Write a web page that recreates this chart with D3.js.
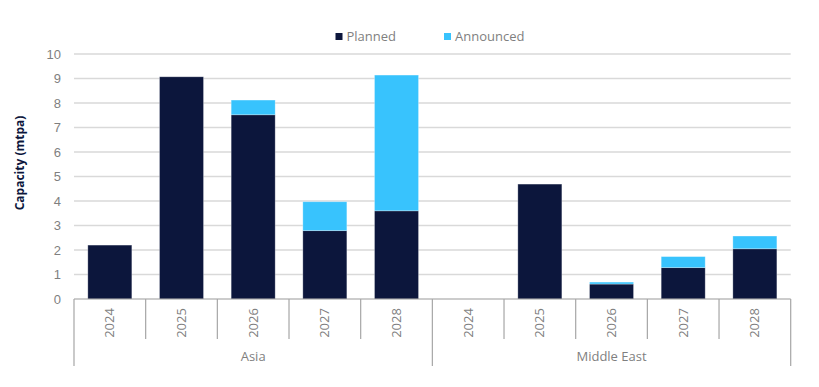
<!DOCTYPE html>
<html>
<head>
<meta charset="utf-8">
<script src="https://cdn.jsdelivr.net/npm/d3@7"></script>
<style>
  body { margin: 0; background: #fff; }
  svg { display: block; font-family: "Open Sans", "Noto Sans", sans-serif; }
</style>
</head>
<body>
<div id="chart"></div>
<script>
// data
const regions = ['Asia', 'Middle East'];
const years = ['2024', '2025', '2026', '2027', '2028'];
const plannedAsia = [2.2, 9.07, 7.52, 2.79, 3.6];
const announcedAsia = [0, 0, 0.6, 1.18, 5.54];
const plannedMiddleEast = [0, 4.69, 0.61, 1.28, 2.05];
const announcedMiddleEast = [0, 0, 0.08, 0.45, 0.52];
const yTicks = [0, 1, 2, 3, 4, 5, 6, 7, 8, 9, 10];
const seriesNames = ['Planned', 'Announced'];

const colors = { Planned: '#0c163c', Announced: '#38c3fd' };

// rows of the table, one per bar
const rows = [];
regions.forEach((region, r) => {
  const planned = r === 0 ? plannedAsia : plannedMiddleEast;
  const announced = r === 0 ? announcedAsia : announcedMiddleEast;
  years.forEach((year, i) => {
    rows.push({ key: region + '|' + year, region, year, Planned: planned[i], Announced: announced[i] });
  });
});

const width = 819, height = 387;
const margin = { top: 54, right: 28.3, bottom: 88, left: 74 };

const svg = d3.select('#chart').append('svg')
  .attr('width', width)
  .attr('height', height);

const x = d3.scaleBand()
  .domain(rows.map(d => d.key))
  .range([margin.left, width - margin.right])
  .paddingInner(0.386)
  .paddingOuter(0.193);

const y = d3.scaleLinear()
  .domain([0, 10])
  .range([height - margin.bottom, margin.top]);

// gridlines
svg.append('g')
  .selectAll('line')
  .data(yTicks.filter(t => t > 0))
  .join('line')
  .attr('x1', margin.left)
  .attr('x2', width - margin.right)
  .attr('y1', d => y(d))
  .attr('y2', d => y(d))
  .attr('stroke', '#d9d9d9')
  .attr('stroke-width', 1.5);

// y axis labels
const yAxis = svg.append('g')
  .attr('transform', `translate(${margin.left},0)`)
  .call(d3.axisLeft(y).tickValues(yTicks).tickSize(0).tickPadding(13));
yAxis.select('.domain').remove();
yAxis.selectAll('text')
  .attr('fill', '#7f7f7f')
  .style('font-size', '13px');

// stacked bars
const stack = d3.stack().keys(seriesNames);
const layers = stack(rows);

svg.append('g')
  .selectAll('g')
  .data(layers)
  .join('g')
  .attr('fill', d => colors[d.key])
  .selectAll('rect')
  .data(d => d.filter(s => s[1] - s[0] > 0))
  .join('rect')
  .attr('x', d => x(d.data.key))
  .attr('width', x.bandwidth())
  .attr('y', d => y(d[1]))
  .attr('height', d => y(d[0]) - y(d[1]))
  .attr('stroke', 'rgba(255,255,255,0.35)')
  .attr('stroke-width', 0.8);

// category axis
const axisY = y(0);
const step = x.step();
const catAxis = svg.append('g');

catAxis.append('line')
  .attr('x1', margin.left)
  .attr('x2', width - margin.right)
  .attr('y1', axisY)
  .attr('y2', axisY)
  .attr('stroke', '#999')
  .attr('stroke-width', 1.2);

// separators between years
const boundaries = d3.range(rows.length + 1).map(i => margin.left + i * step);
catAxis.selectAll('.sep')
  .data(boundaries)
  .join('line')
  .attr('class', 'sep')
  .attr('x1', d => d)
  .attr('x2', d => d)
  .attr('y1', axisY)
  .attr('y2', (d, i) => (i % years.length === 0) ? 366 : 339)
  .attr('stroke', '#a6a6a6')
  .attr('stroke-width', 1.2);

// year labels
catAxis.selectAll('.year')
  .data(rows)
  .join('text')
  .attr('class', 'year')
  .attr('transform', d => `translate(${x(d.key) + x.bandwidth() / 2 + 4.5},323) rotate(-90)`)
  .attr('text-anchor', 'middle')
  .attr('fill', '#7f7f7f')
  .style('font-size', '13px')
  .text(d => d.year);

// region labels
catAxis.selectAll('.region')
  .data(regions)
  .join('text')
  .attr('class', 'region')
  .attr('x', (d, i) => margin.left + (i + 0.5) * years.length * step)
  .attr('y', 361)
  .attr('text-anchor', 'middle')
  .attr('fill', '#7f7f7f')
  .style('font-size', '13px')
  .text(d => d);

// y axis title
svg.append('text')
  .attr('transform', `translate(24,163) rotate(-90)`)
  .attr('text-anchor', 'middle')
  .attr('fill', '#0c163c')
  .style('font-size', '12px')
  .style('font-weight', 'bold')
  .text('Capacity (mtpa)');

// legend
const legendX = [335.5, 444];
const legend = svg.append('g')
  .selectAll('g')
  .data(seriesNames)
  .join('g')
  .attr('transform', (d, i) => `translate(${legendX[i]},33)`);
legend.append('rect')
  .attr('width', 7)
  .attr('height', 7)
  .attr('fill', d => colors[d]);
legend.append('text')
  .attr('x', 11)
  .attr('y', 8)
  .attr('fill', '#7f7f7f')
  .style('font-size', '13px')
  .text(d => d);
</script>
</body>
</html>
